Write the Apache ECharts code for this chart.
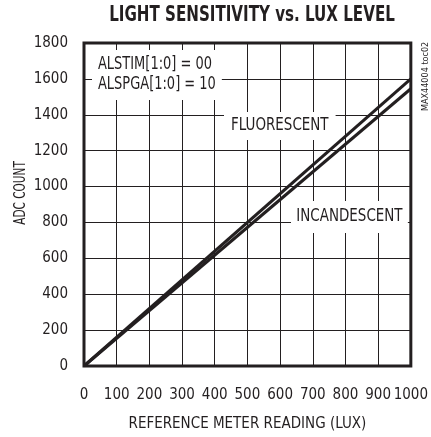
<!DOCTYPE html>
<html>
<head>
<meta charset="utf-8">
<script src="https://cdn.jsdelivr.net/npm/echarts@6/dist/echarts.min.js"></script>
<style>
html, body { margin: 0; padding: 0; background: #fff; }
#main { width: 431px; height: 437px; }
</style>
</head>
<body>
<div id="main"></div>
<script>
var FONT = '"Liberation Sans Narrow", "DejaVu Sans Condensed", "Roboto", sans-serif';
var INK = '#231f20';

// reference meter reading (lux) vs ADC count
var luxLevels = [0, 1000];
var fluorescent = [0, 1600];
var incandescent = [0, 1545];

var xTicks = [0, 100, 200, 300, 400, 500, 600, 700, 800, 900, 1000];
var yTicks = [0, 200, 400, 600, 800, 1000, 1200, 1400, 1600, 1800];

function pairs(xs, ys) {
	var out = [];
	for (var i = 0; i < xs.length; i++) {
		out.push([xs[i], ys[i]]);
	}
	return out;
}

// white-backed annotation placed on the plot
function note(text, x, y, sx, pad) {
	return {
		type: 'text',
		x: x,
		y: y,
		scaleX: sx,
		z: 10,
		style: {
			text: text,
			font: '17px ' + FONT,
			fill: INK,
			lineHeight: 20,
			align: 'left',
			verticalAlign: 'middle',
			backgroundColor: '#fff',
			padding: pad
		}
	};
}

var myChart = echarts.init(document.getElementById('main'));

var lineStyle = { color: INK, width: 3 };

var option = {
	backgroundColor: '#fff',
	animation: false,
	grid: {
		left: 84,
		right: 14,
		top: 43,
		bottom: 63,
		show: true,
		borderColor: INK,
		borderWidth: 3,
		z: 5
	},
	xAxis: {
		type: 'value',
		min: 0,
		max: 1000,
		interval: 100,
		name: 'REFERENCE METER READING (LUX)',
		nameLocation: 'middle',
		nameGap: 51,
		nameTextStyle: { fontFamily: FONT, fontSize: 15, color: INK },
		axisLine: { show: false },
		axisTick: { show: false },
		axisLabel: {
			margin: 22,
			fontFamily: FONT,
			fontSize: 15,
			color: INK,
			formatter: function (v) { return xTicks.indexOf(v) >= 0 ? String(v) : ''; }
		},
		splitLine: { show: true, lineStyle: { color: INK, width: 1 } }
	},
	yAxis: {
		type: 'value',
		min: 0,
		max: 1800,
		interval: 200,
		axisLine: { show: false },
		axisTick: { show: false },
		axisLabel: {
			margin: 16,
			fontFamily: FONT,
			fontSize: 15,
			color: INK,
			formatter: function (v) { return yTicks.indexOf(v) >= 0 ? String(v) : ''; }
		},
		splitLine: { show: true, lineStyle: { color: INK, width: 1 } }
	},
	series: [{
		name: 'FLUORESCENT',
		type: 'line',
		showSymbol: false,
		lineStyle: lineStyle,
		data: pairs(luxLevels, fluorescent),
		z: 3
	}, {
		name: 'INCANDESCENT',
		type: 'line',
		showSymbol: false,
		lineStyle: lineStyle,
		data: pairs(luxLevels, incandescent),
		z: 3
	}],
	graphic: [
		{
			type: 'text',
			x: 252,
			y: 16,
			scaleX: 0.8,
			style: {
				text: 'LIGHT SENSITIVITY vs. LUX LEVEL',
				font: 'bold 21px ' + FONT,
				fill: INK,
				align: 'center',
				verticalAlign: 'middle'
			}
		},
		{
			type: 'text',
			x: 21,
			y: 193,
			rotation: Math.PI / 2,
			scaleX: 0.78,
			style: {
				text: 'ADC COUNT',
				font: '15px ' + FONT,
				fill: INK,
				align: 'center',
				verticalAlign: 'middle'
			}
		},
		note('ALSTIM[1:0] = 00\nALSPGA[1:0] = 10', 92, 75, 0.85, [5, 7, 5, 7]),
		note('FLUORESCENT', 224, 126, 0.88, [4, 8, 4, 8]),
		note('INCANDESCENT', 291, 217, 0.88, [6, 6, 6, 6]),
		{
			type: 'text',
			x: 421,
			y: 111,
			rotation: Math.PI / 2,
			z: 10,
			style: {
				text: 'MAX44004 toc02',
				font: '9px ' + FONT,
				fill: INK
			}
		}
	]
};
myChart.setOption(option);
</script>
</body>
</html>
